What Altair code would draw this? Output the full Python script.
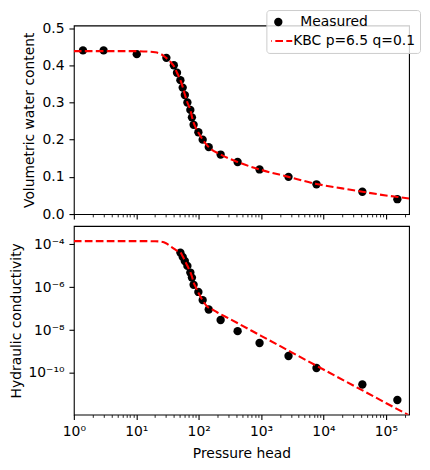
import altair as alt
import pandas as pd

FONT = "DejaVu Sans"
FS = 13.9

# ---- data ----
series_names = ["Measured", "KBC p=6.5 q=0.1"]
series_colors = ["black", "red"]

theta_h = [1.4, 3.0, 10.2, 30.4, 40, 45, 51, 55.5, 60, 66, 73.6, 78, 83, 99, 116, 145,
           225, 421, 946, 2754, 7727, 42000, 152800]
theta_obs = [0.44, 0.44, 0.43, 0.42, 0.40, 0.38, 0.36, 0.34, 0.32, 0.30, 0.28, 0.26,
             0.24, 0.22, 0.20, 0.18, 0.16, 0.14, 0.12, 0.10, 0.08, 0.06, 0.04]

k_h = [51, 55.5, 60, 66, 73.6, 78, 83, 99, 116, 145, 225, 421, 946, 2754, 7727, 42000, 152800]
k_obs = [4.1e-5, 2.6e-5, 1.66e-5, 9.8e-6, 4.8e-6, 2.8e-6, 1.29e-6, 6.0e-7, 2.5e-7, 9.1e-8,
         2.95e-8, 8.9e-9, 2.5e-9, 6.2e-10, 1.7e-10, 2.9e-11, 5.5e-12]

fit_theta_h = [1, 10, 15, 20, 25, 30, 35, 40, 45, 51, 55.5, 60, 66, 73.6, 78, 83, 90, 100,
               116, 145, 225, 421, 946, 2754, 7727, 20000, 42000, 100000, 152800, 235000]
fit_theta = [0.438, 0.438, 0.437, 0.435, 0.43, 0.42, 0.41, 0.398, 0.38, 0.36, 0.342, 0.322,
             0.30, 0.28, 0.262, 0.246, 0.232, 0.218, 0.20, 0.18, 0.16, 0.14, 0.12, 0.10,
             0.081, 0.069, 0.06, 0.05, 0.046, 0.042]

fit_k_h = [1, 10, 20, 25, 30, 35, 40, 45, 51, 55.5, 60, 66, 73.6, 78, 83, 90, 100, 116, 137,
           170, 200, 300, 1000, 10000, 100000, 235000]
fit_k = [1.41e-4, 1.41e-4, 1.38e-4, 1.32e-4, 1.12e-4, 8.3e-5, 6.3e-5, 5.0e-5, 4.2e-5, 2.75e-5,
         1.74e-5, 1.0e-5, 5.0e-6, 3.16e-6, 1.66e-6, 1.0e-6, 5.2e-7, 2.4e-7, 1.26e-7, 8.7e-8,
         6.6e-8, 3.55e-8, 5.4e-9, 1.45e-10, 4.0e-12, 1.05e-12]

x_domain = [1, 235000]
theta_domain = [0, 0.507]
k_domain = [1.15e-12, 7.1e-4]

x_major = [1, 10, 100, 1000, 10000, 100000]
x_major_labels = ["10⁰", "10¹", "10²", "10³", "10⁴", "10⁵"]
x_ticks = [m * d for d in x_major for m in range(1, 10) if m * d <= x_domain[1]]
theta_ticks = [0.0, 0.1, 0.2, 0.3, 0.4, 0.5]
k_ticks = [1e-4, 1e-6, 1e-8, 1e-10]
k_labels = ["10⁻⁴", "10⁻⁶", "10⁻⁸", "10⁻¹⁰"]

# ---- tables ----
theta_pts = pd.DataFrame({"h": theta_h, "v": theta_obs, "s": series_names[0]})
theta_fit = pd.DataFrame({"h": fit_theta_h, "v": fit_theta, "s": series_names[1]})
k_pts = pd.DataFrame({"h": k_h, "v": k_obs, "s": series_names[0]})
k_fit = pd.DataFrame({"h": fit_k_h, "v": fit_k, "s": series_names[1]})


def label_expr(values, labels):
    expr = "''"
    for v, l in reversed(list(zip(values, labels))):
        expr = f"datum.value == {v!r} ? '{l}' : ({expr})"
    return expr


major_test = "indexof(" + str(x_major) + ", datum.value) >= 0"

common_axis = dict(
    labelFont=FONT, labelFontSize=FS, labelColor="black",
    titleFont=FONT, titleFontSize=FS, titleFontWeight="normal", titleColor="black",
    domain=False, grid=False, tickColor="black",
)


def x_axis(show_labels):
    return alt.Axis(
        values=x_ticks,
        labelExpr=label_expr(x_major, x_major_labels) if show_labels else "''",
        labels=show_labels,
        tickSize={"condition": {"test": major_test, "value": 4.9}, "value": 2.8},
        tickWidth={"condition": {"test": major_test, "value": 1.1}, "value": 0.85},
        labelPadding=4.9, labelFlush=False, labelOverlap=False,
        title="Pressure head" if show_labels else None, titlePadding=8,
        **common_axis,
    )


color_scale = alt.Scale(domain=series_names, range=series_colors)

legend = alt.Legend(
    title=None, orient="none", legendX=193, legendY=-15.5, columns=1,
    symbolType=alt.ExprRef(expr="datum.value == 'Measured' ? 'circle' : 'stroke'"),
    symbolSize=alt.ExprRef(expr="datum.value == 'Measured' ? 70 : 784"),
    symbolStrokeWidth=alt.ExprRef(expr="datum.value == 'Measured' ? 0 : 2.1"),
    symbolDash=alt.ExprRef(expr="datum.value == 'Measured' ? [1, 0] : [7.7, 3.3]"),
    symbolFillColor=alt.ExprRef(expr="datum.value == 'Measured' ? 'black' : 'transparent'"),
    symbolStrokeColor=alt.ExprRef(expr="datum.value == 'Measured' ? 'black' : 'red'"),
    symbolOpacity=1,
    labelFont=FONT, labelFontSize=FS, labelColor="black",
    labelOffset=alt.ExprRef(expr="datum.value == 'Measured' ? 15 : 8"),
    padding=5, rowPadding=5, clipHeight=14,
    fillColor="rgba(255,255,255,0.8)", strokeColor="#cccccc", cornerRadius=3,
)


def panel(pts, fit, y_scale, y_axis, with_legend):
    col = alt.Color("s:N", scale=color_scale, legend=legend if with_legend else None)
    x_enc = alt.X("h:Q", scale=alt.Scale(type="log", domain=x_domain, nice=False),
                  axis=x_axis(not with_legend))
    y_enc = alt.Y("v:Q", scale=y_scale, axis=y_axis)
    p = alt.Chart(pts).mark_point(filled=True, size=70, opacity=1, clip=True).encode(
        x=x_enc, y=y_enc, color=col)
    l = alt.Chart(fit).mark_line(strokeDash=[7.7, 3.3], strokeWidth=2.1, clip=True,
                                 interpolate="monotone").encode(
        x=x_enc, y=y_enc, color=col)
    return alt.layer(p, l).properties(width=336, height=189)


top = panel(
    theta_pts, theta_fit,
    alt.Scale(domain=theta_domain, nice=False, zero=False),
    alt.Axis(values=theta_ticks, format=".1f", tickSize=4.9, tickWidth=1.1,
             labelPadding=4.9, title="Volumetric water content", titlePadding=6,
             labelFlush=False, **common_axis),
    True,
)

bottom = panel(
    k_pts, k_fit,
    alt.Scale(type="log", domain=k_domain, nice=False),
    alt.Axis(values=k_ticks, labelExpr=label_expr(k_ticks, k_labels), tickSize=4.9,
             tickWidth=1.1, labelPadding=4.9, title="Hydraulic conductivity",
             titlePadding=5, labelFlush=False, **common_axis),
    False,
)

chart = alt.vconcat(top, bottom, spacing=12, bounds="flush").resolve_legend(
    color="independent"
).properties(
    padding={"left": 0, "top": 0, "right": 0, "bottom": 0},
    background="white",
).configure_view(
    stroke="black", strokeWidth=1.1
)

chart.save("out.html", embed_options={"renderer": "svg", "actions": False})
